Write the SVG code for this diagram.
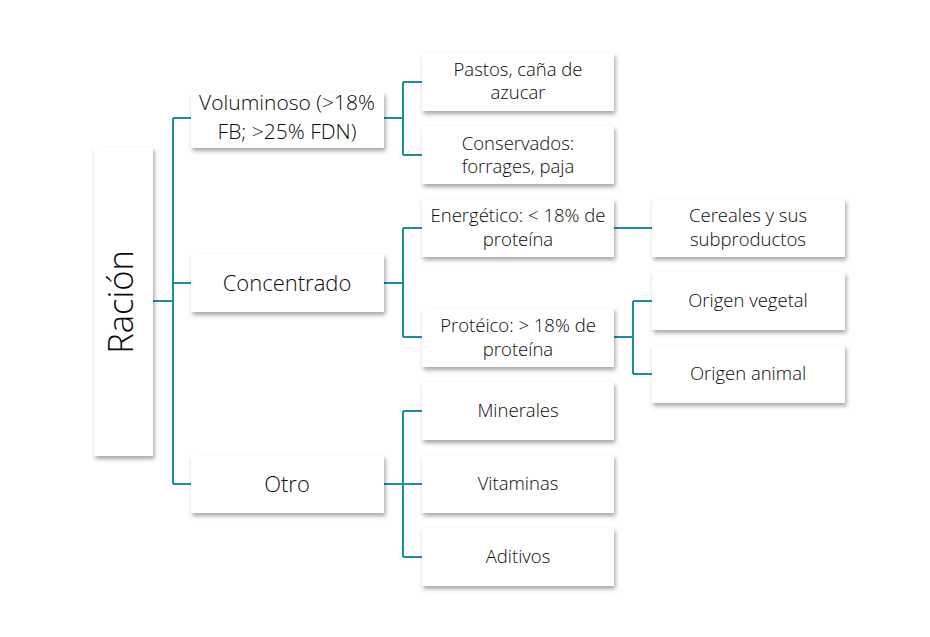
<svg xmlns="http://www.w3.org/2000/svg" width="930" height="637" viewBox="0 0 930 637">
<defs>
<filter id="sh" x="-10%" y="-10%" width="130%" height="140%">
<feDropShadow dx="1.5" dy="3" stdDeviation="2" flood-color="#000" flood-opacity="0.35"/>
</filter>
</defs>
<style>
.b{fill:#fff;filter:url(#sh)}
.t{font-family:"Open Sans","Noto Sans",sans-serif;font-weight:300;fill:#0a0a0a;text-anchor:middle}
.l1{font-size:22px}
.l2{font-size:18.5px}
.c{fill:none;stroke:#1b8fa2;stroke-width:2}
</style>
<rect width="930" height="637" fill="#fff"/>
<g id="connectors">
<path class="c" d="M153 301H173M173 118V484M173 118H191M173 283H191M173 484H191"/>
<path class="c" d="M384 118H403M403 82V155M403 82H422M403 155H422"/>
<path class="c" d="M384 283H403M403 228V337M403 228H422M403 337H422"/>
<path class="c" d="M384 484H422M403 411V557M403 411H422M403 557H422"/>
<path class="c" d="M614 228H652"/>
<path class="c" d="M614 337H633M633 301V374M633 301H652M633 374H652"/>
</g>
<g id="racion"><rect class="b" x="94" y="147" width="59" height="309"/><text class="t" font-size="34.5" transform="translate(133 302) rotate(-90)">Ración</text></g>
<g id="voluminoso"><rect class="b" x="191" y="92" width="193" height="56"/><text class="t" font-size="21" x="287" y="110">Voluminoso (&gt;18%</text><text class="t" font-size="21" x="287" y="139">FB; &gt;25% FDN)</text></g>
<g id="concentrado"><rect class="b" x="191" y="254" width="193" height="58"/><text class="t l1" x="287" y="291">Concentrado</text></g>
<g id="otro"><rect class="b" x="191" y="455" width="193" height="58"/><text class="t l1" x="287" y="492">Otro</text></g>
<g id="pastos"><rect class="b" x="422" y="53" width="192" height="58"/><text class="t l2" x="518" y="76">Pastos, caña de</text><text class="t l2" x="518" y="99">azucar</text></g>
<g id="conservados"><rect class="b" x="422" y="126" width="192" height="58"/><text class="t l2" x="518" y="150">Conservados:</text><text class="t l2" x="518" y="173">forrages, paja</text></g>
<g id="energetico"><rect class="b" x="422" y="199" width="192" height="58"/><text class="t l2" x="518" y="222">Energético: &lt; 18% de</text><text class="t l2" x="518" y="246">proteína</text></g>
<g id="proteico"><rect class="b" x="422" y="308" width="192" height="59"/><text class="t l2" x="518" y="332">Protéico: &gt; 18% de</text><text class="t l2" x="518" y="356">proteína</text></g>
<g id="minerales"><rect class="b" x="422" y="382" width="192" height="58"/><text class="t l2" x="518" y="417">Minerales</text></g>
<g id="vitaminas"><rect class="b" x="422" y="455" width="192" height="58"/><text class="t l2" x="518" y="490">Vitaminas</text></g>
<g id="aditivos"><rect class="b" x="422" y="528" width="192" height="58"/><text class="t l2" x="518" y="563">Aditivos</text></g>
<g id="cereales"><rect class="b" x="652" y="199" width="193" height="58"/><text class="t l2" x="748" y="222">Cereales y sus</text><text class="t l2" x="748" y="246">subproductos</text></g>
<g id="vegetal"><rect class="b" x="652" y="272" width="193" height="58"/><text class="t l2" x="748" y="307">Origen vegetal</text></g>
<g id="animal"><rect class="b" x="652" y="345" width="193" height="58"/><text class="t l2" x="748" y="380">Origen animal</text></g>
</svg>
